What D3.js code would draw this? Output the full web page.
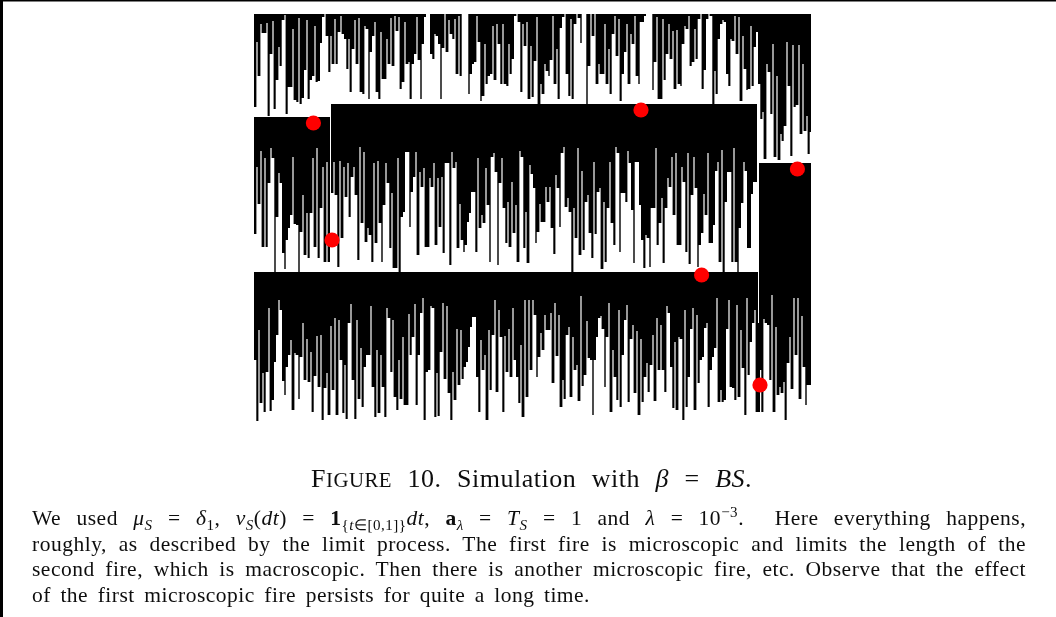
<!DOCTYPE html>
<html>
<head>
<meta charset="utf-8">
<script src="https://cdn.jsdelivr.net/npm/d3@7"></script>
<style>
  html, body { margin: 0; padding: 0; background: #fff; }
  svg { display: block; }
  text { font-family: "Liberation Serif", serif; fill: #111; }
</style>
</head>
<body>
<div id="wrapper"></div>
<script>
// how deep each column burned, one value per site
const topRowDepth = [93,28,62,10,19,19,9,102,40,7,95,66,33,52,6,1,100,73,73,15,86,88,4,90,84,56,6,85,66,62,12,68,67,29,3,0,22,58,22,50,5,50,18,2,20,25,55,25,78,35,6,50,4,78,80,12,15,85,38,22,8,78,85,18,65,65,25,50,4,52,2,17,3,75,68,8,50,48,85,50,40,3,46,85,30,3,0,0,40,45,20,22,30,85,34,0,38,6,20,25,5,60,2,62,0,0,0,80,60,50,48,2,28,87,82,30,70,62,60,12,66,10,30,70,10,70,72,30,60,45,2,0,8,78,10,32,8,85,32,83,47,3,90,70,80,50,57,62,46,2,70,35,85,14,3,0,60,82,5,85,10,0,4,29,0,0,90,52,0,22,0,70,50,60,60,10,70,35,80,20,2,42,5,87,60,38,10,70,20,30,2,62,70,8,8,2,0,0,0,76,48,3,85,85,5,66,40,10,45,17,75,16,70,72,30,12,15,2,52,48,15,45,5,0,75,56,5,0,2,90,57,80,25,10,6,8,60,72,25,27,2,40,3,87,22,55,76,75,12,72,33,18];
const topRightDepth = [70,105,98,145,50,58,100,30,143,62,146,120,127,112,28,72,142,31,93,91,31,120,50,117,102,140,118];
const midLeftDepth = [117,50,87,34,130,41,130,66,31,41,155,100,56,66,136,152,123,111,98,40,107,108,155,115,78,138,96,141,96,41,130,31,141,91,50,145,45,145];
const midDepth = [89,58,91,163,57,134,63,93,59,113,73,63,91,156,43,119,48,138,124,131,158,59,139,57,119,158,101,59,79,144,89,164,164,54,168,113,108,48,48,123,88,73,48,151,68,83,64,143,143,74,83,59,141,74,123,73,149,59,59,161,48,64,58,144,100,136,148,141,118,109,88,88,148,54,124,111,119,64,101,158,53,49,68,161,79,54,104,139,98,143,78,129,101,158,47,53,144,108,159,61,70,84,139,128,100,118,118,83,98,83,124,150,71,84,123,49,43,103,94,108,168,104,134,44,151,67,146,98,91,129,154,58,130,88,84,165,98,158,104,58,119,141,43,49,148,89,89,98,47,59,106,159,58,58,101,136,164,131,134,163,104,104,44,141,119,94,159,104,74,83,53,111,49,141,141,63,78,148,49,160,91,53,84,163,141,129,90,111,49,139,139,121,67,58,158,46,168,98,68,68,158,44,158,168,124,99,58,67,144,144,90,78,78];
const bottomDepth = [88,149,58,131,101,140,100,36,139,128,90,63,28,38,109,123,95,83,68,138,81,83,127,85,51,108,67,110,80,140,104,64,115,63,148,116,101,143,54,118,46,143,48,88,141,93,147,51,32,108,147,48,127,76,135,95,83,83,34,115,145,78,141,83,115,145,36,46,100,48,125,138,88,127,65,133,133,42,83,65,32,133,83,41,26,148,100,98,34,36,145,101,144,80,31,107,34,121,148,100,128,57,113,58,107,95,90,75,55,45,45,105,140,68,98,83,148,58,118,63,28,120,38,65,140,64,100,57,105,36,88,105,131,73,145,28,125,28,98,28,43,105,85,61,78,43,58,58,41,111,31,84,43,135,108,127,63,55,125,65,98,93,129,24,114,103,49,86,88,143,88,65,46,44,57,115,65,31,140,78,105,128,38,135,83,48,33,130,67,53,121,59,143,67,130,105,91,120,93,63,129,46,98,53,98,120,34,41,95,136,70,138,65,67,148,38,135,105,57,36,138,43,111,88,85,56,51,135,98,85,76,26,130,118,130,128,57,28,115,116,128,33,125,58,96,143,26,103,70,51,38,140];
const rightDepth = [207,249,156,160,162,217,132,249,164,232,224,230,219,257,200,174,226,135,192,135,236,153,204,242,222,222];
const cornerDepth = [89];

// where each burned block starts: first site and height of its top edge
const panelStart = [0, 252, 0, 38.5, 0, 252.5, 252];
const panelTop = [407, 407, 304, 317, 149, 258, 98];
const panelDepths = [topRowDepth, topRightDepth, midLeftDepth, midDepth, bottomDepth, rightDepth, cornerDepth];

// the fires
const fireSite = [29.7, 193.5, 271.7, 39, 223.8, 253];
const fireHeight = [298, 311, 252, 181, 146, 36];

const bodyLine2 = "roughly, as described by the limit process. The first fire is microscopic and limits the length of the";
const bodyLine3 = "second fire, which is macroscopic. Then there is another microscopic fire, etc. Observe that the effect";
const bodyLine4 = "of the first microscopic fire persists for quite a long time.";

const width = 1056
const height = 617

const xScale = d3.scaleLinear().domain([0, 278.5]).range([254, 811]).clamp(true)
const yScale = d3.scaleLinear().domain([0, 407]).range([421, 14])

const wrapper = d3.select("#wrapper")
  .append("svg")
    .attr("width", width)
    .attr("height", height)

wrapper.append("defs").append("filter")
    .attr("id", "soft")
    .attr("x", "-2%").attr("y", "-2%").attr("width", "104%").attr("height", "104%")
  .append("feGaussianBlur")
    .attr("stdDeviation", 0.4)

// page frame, only left and top
wrapper.append("rect").attr("x", 0).attr("y", 0).attr("width", 3).attr("height", height).attr("fill", "#000")
wrapper.append("rect").attr("x", 0).attr("y", 0).attr("width", width).attr("height", 1.5).attr("fill", "#000")

const bounds = wrapper.append("g").attr("filter", "url(#soft)")

// slits and lone spikes are thinner than a full site in the picture
function edgeShift(depths, i) {
  const isSlit = k => depths[k] < depths[k - 1] && depths[k] < depths[k + 1]
  const isSpike = k => depths[k] > depths[k - 1] && depths[k] > depths[k + 1]
  if (isSlit(i)) return -0.2
  if (isSlit(i + 1)) return 0.2
  if (isSpike(i)) return -0.15
  if (isSpike(i + 1)) return 0.15
  return 0
}

// 1. burned columns
panelDepths.forEach((depths, p) => {
  const start = panelStart[p]
  const top = panelTop[p]
  const rows = depths.map((d, i) => ({
    site: start + i + (i > 0 ? edgeShift(depths, i - 1) : 0),
    depth: d,
  }))
  rows.push({ site: start + depths.length, depth: depths[depths.length - 1] })
  const area = d3.area()
    .x(d => xScale(d.site))
    .y0(yScale(top))
    .y1(d => yScale(top - d.depth))
    .curve(d3.curveStepAfter)
  bounds.append("path").datum(rows).attr("d", area).attr("fill", "#000")
})

// 2. red dots
bounds.selectAll("circle")
  .data(fireSite)
  .join("circle")
    .attr("cx", d => xScale(d))
    .attr("cy", (d, i) => yScale(fireHeight[i]))
    .attr("r", 7.6)
    .attr("fill", "#ff0000")

// 3. caption, each piece is [text, kind]
const textGroup = wrapper.append("g").attr("filter", "url(#soft)")

function addLine(pieces, x, y, size, targetWidth, tracking) {
  const line = textGroup.append("text")
    .attr("x", x).attr("y", y)
    .attr("font-size", size)
    .attr("letter-spacing", tracking)
    .attr("xml:space", "preserve")
  let shift = 0
  pieces.forEach(([str, kind]) => {
    const span = line.append("tspan").text(str)
    let want = 0
    if (kind === "i") span.attr("font-style", "italic")
    if (kind === "b") span.attr("font-weight", "bold")
    if (kind === "sc") span.attr("font-size", size * 0.8)
    if (kind === "sub") { span.attr("font-style", "italic").attr("font-size", size * 0.7); want = size * 0.22 }
    if (kind === "subr") { span.attr("font-size", size * 0.7); want = size * 0.22 }
    if (kind === "sup") { span.attr("font-size", size * 0.7); want = -size * 0.38 }
    span.attr("dy", want - shift)
    shift = want
  })
  const spaces = pieces.map(d => d[0]).join("").split(" ").length - 1
  const natural = line.node().getComputedTextLength()
  line.attr("word-spacing", (targetWidth - natural) / spaces)
}

addLine([["F"], ["IGURE", "sc"], [" 10. Simulation with "], ["β", "i"], [" = "], ["BS", "i"], ["."]], 311, 487, 26, 441, 0.5)

addLine([
  ["We used "], ["μ", "i"], ["S", "sub"], [" = "], ["δ", "i"], ["1", "subr"], [", "], ["ν", "i"], ["S", "sub"],
  ["("], ["dt", "i"], [") = "], ["1", "b"], ["{", "subr"], ["t", "sub"], ["∈[0,1]}", "subr"], ["dt", "i"], [", "], ["a", "b"], ["λ", "sub"],
  [" = "], ["T", "i"], ["S", "sub"], [" = 1 and "], ["λ", "i"], [" = 10"], ["−3", "sup"], [".  Here everything happens,"]
], 32, 525, 21.5, 994, 0.5)
addLine([[bodyLine2]], 32, 551, 21.5, 994, 0.5)
addLine([[bodyLine3]], 32, 576, 21.5, 994, 0.5)
addLine([[bodyLine4]], 32, 602, 21.5, 558, 0.5)
</script>
</body>
</html>
